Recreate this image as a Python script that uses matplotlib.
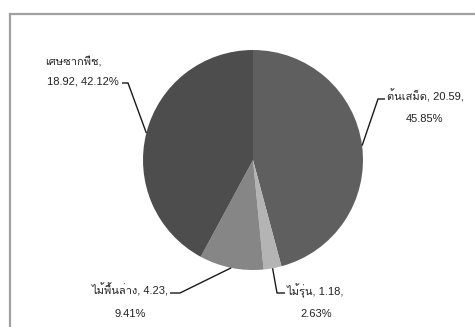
import matplotlib
matplotlib.use("Agg")
import matplotlib.pyplot as plt
from matplotlib import font_manager
from matplotlib.lines import Line2D
import numpy as np

# ---- data ----
categories = ["ต้นเสม็ด", "ไม้รุ่น", "ไม้พื้นล่าง", "เศษซากพืช"]
values = [20.59, 1.18, 4.23, 18.92]
percents = ["45.85%", "2.63%", "9.41%", "42.12%"]
colors = ["#5f5f5f", "#b4b4b4", "#868686", "#4d4d4d"]

# ---- find a font with Thai glyphs ----
thai_family = None
try:
    from fontTools.ttLib import TTFont
    for f in font_manager.fontManager.ttflist:
        try:
            tt = TTFont(f.fname, fontNumber=0, lazy=True)
            cmap = tt.getBestCmap()
            if cmap and 0x0E15 in cmap and 0x0E49 in cmap:
                thai_family = f.name
                break
        except Exception:
            continue
except Exception:
    pass

families = ["Liberation Sans"]
if thai_family:
    families.append(thai_family)
families.append("DejaVu Sans")
plt.rcParams["font.family"] = families

W, H = 475, 327
fig = plt.figure(figsize=(W / 100, H / 100), dpi=100)
fig.patch.set_facecolor("white")

# frame (gray border: top and left edges visible)
fx0, fy0 = 9.5 / W, 1 - 13.5 / H
fig.add_artist(Line2D([fx0, 1.05], [fy0, fy0], transform=fig.transFigure,
                      color="#a0a0a0", linewidth=1.6))
fig.add_artist(Line2D([fx0, fx0], [fy0, -0.05], transform=fig.transFigure,
                      color="#a0a0a0", linewidth=1.6))

cx, cy, R = 253, 160, 110
ax = fig.add_axes([(cx - R) / W, (H - cy - R) / H, 2 * R / W, 2 * R / H])
wedges, _ = ax.pie(values, colors=colors, startangle=90, counterclock=False,
                   radius=1.0, wedgeprops=dict(linewidth=0))
ax.set_xlim(-1, 1)
ax.set_ylim(-1, 1)
ax.set_aspect("equal")
ax.axis("off")


def px(x, y):
    return ((x - cx) / R, (cy - y) / R)


# leader elbows/ends and text positions (pixels)
elbows = [(378, 99), (277, 293), (180, 293), (128, 83)]
ends = [(385, 99), (285, 293), (170, 293), (122, 83)]
line1_pos = [(425, 100), (315, 295), (130, 295), (73, 64)]
line2_pos = [(425, 122), (316, 317), (130, 317), (83, 85)]
line1_txt = [f"{categories[0]}, {values[0]:.2f},",
             f"{categories[1]}, {values[1]:.2f},",
             f"{categories[2]}, {values[2]:.2f},",
             f"{categories[3]},"]
line2_txt = [percents[0], percents[1], percents[2],
             f"{values[3]:.2f}, {percents[3]}"]

for i, w in enumerate(wedges):
    ang = np.deg2rad((w.theta1 + w.theta2) / 2)
    ex, ey = np.cos(ang), np.sin(ang)
    bx, by = px(*elbows[i])
    gx, gy = px(*ends[i])
    ax.plot([ex, bx, gx], [ey, by, gy], color="#1a1a1a", lw=1.0,
            clip_on=False, solid_capstyle="butt")
    tx, ty = px(*line1_pos[i])
    ax.text(tx, ty, line1_txt[i], ha="center", va="baseline", fontsize=8,
            color="#222222", clip_on=False)
    tx, ty = px(*line2_pos[i])
    ax.text(tx, ty, line2_txt[i], ha="center", va="baseline", fontsize=8,
            color="#222222", clip_on=False)

fig.savefig("out.png", dpi=100, facecolor="white")
